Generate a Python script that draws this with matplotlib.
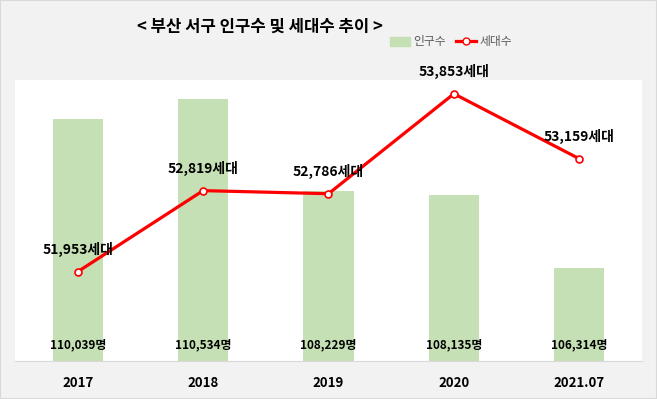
import matplotlib.pyplot as plt
from matplotlib.patches import Patch
from matplotlib.lines import Line2D

plt.rcParams['font.family'] = ['Noto Sans CJK KR', 'DejaVu Sans']

# data
years = ['2017', '2018', '2019', '2020', '2021.07']
population = [110039, 110534, 108229, 108135, 106314]
households = [51953, 52819, 52786, 53853, 53159]

fig = plt.figure(figsize=(6.57, 3.99), dpi=100)
fig.patch.set_facecolor('#f2f2f2')

ax = fig.add_axes([15 / 657, 38 / 399, 627 / 657, 281 / 399])
ax.set_facecolor('white')
x = list(range(len(years)))
ax.bar(x, population, width=0.4, color='#c5e0b4', zorder=1)
ax.set_ylim(104000, 111000)
ax.set_xlim(-0.5, len(years) - 0.5)
ax.set_xticks(x)
ax.set_xticklabels(years, fontsize=9.5, fontweight='bold')
ax.tick_params(axis='x', length=0, pad=11)
ax.set_yticks([])
for s in ['top', 'left', 'right']:
    ax.spines[s].set_visible(False)
ax.spines['bottom'].set_color('#d9d9d9')

for i, v in enumerate(population):
    ax.annotate(f'{v:,}명', xy=(i, 104000), xytext=(0, 16), textcoords='offset pixels',
                ha='center', va='center', fontsize=8.5, fontweight='bold')

ax2 = ax.twinx()
ax2.plot(x, households, color='#ff0000', lw=2.3, marker='o', ms=5,
         mfc='white', mec='#ff0000', mew=1.2, zorder=3)
ax2.set_ylim(51000, 54000)
ax2.set_yticks([])
for s in ['top', 'left', 'right', 'bottom']:
    ax2.spines[s].set_visible(False)

for i, v in enumerate(households):
    ax2.annotate(f'{v:,}세대', xy=(i, v), xytext=(0, 22), textcoords='offset pixels',
                 ha='center', va='center', fontsize=10, fontweight='bold')

fig.text(260 / 657, 1 - 27 / 399, '< 부산 서구 인구수 및 세대수 추이 >',
         ha='center', va='center', fontsize=12, fontweight='bold')

handles = [Patch(color='#c5e0b4', label='인구수'),
           Line2D([], [], color='#ff0000', lw=2.3, marker='o', ms=5,
                  mfc='white', mec='#ff0000', label='세대수')]
fig.legend(handles=handles, loc='center', bbox_to_anchor=(451 / 657, 1 - 42 / 399),
           ncol=2, frameon=False, fontsize=8.5, labelcolor='#595959',
           handlelength=1.7, handletextpad=0.3, columnspacing=0.8)

fig.patches.append(plt.Rectangle((0, 0), 1, 1, transform=fig.transFigure,
                                 fill=False, edgecolor='#d9d9d9', lw=1.5))

fig.savefig('out.png', dpi=100, facecolor=fig.get_facecolor())
